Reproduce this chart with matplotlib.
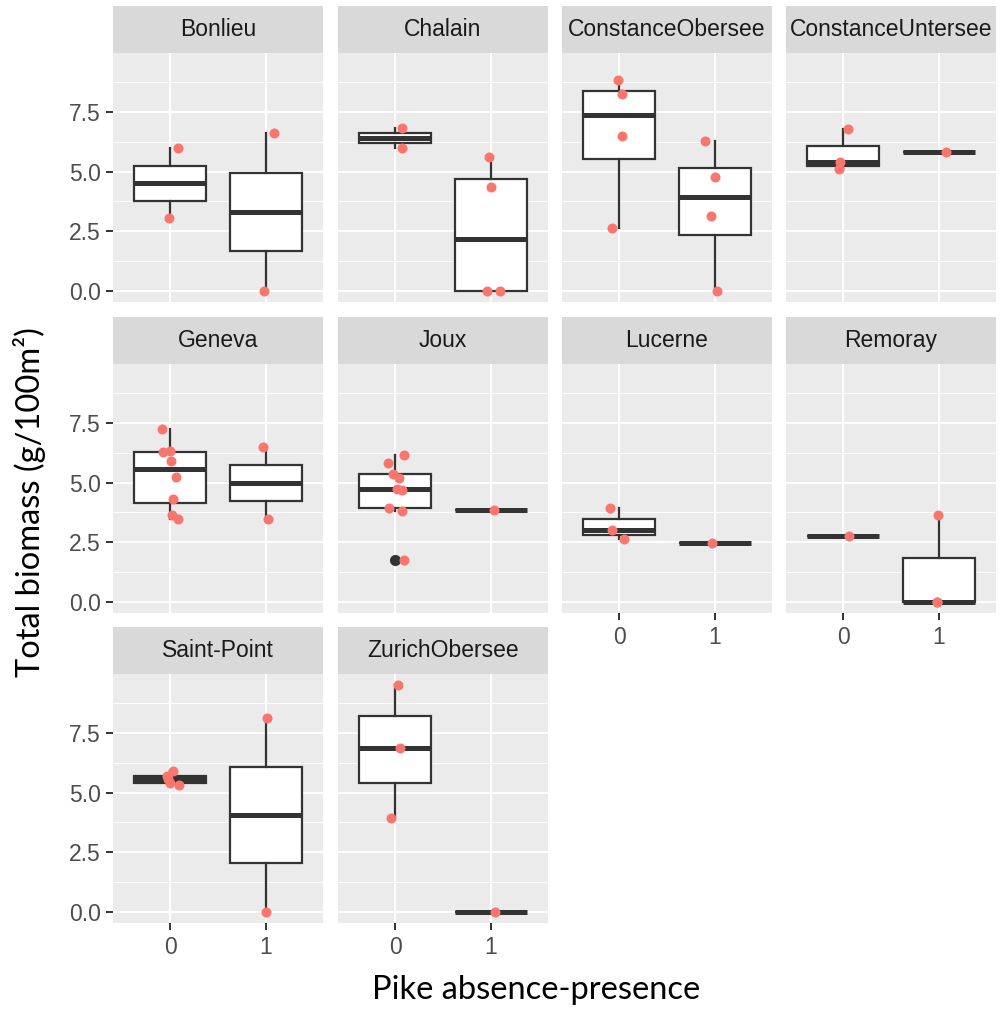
import numpy as np
import matplotlib.pyplot as plt

# biomass per lake, split by pike absence (0) / presence (1)
lakes = ["Bonlieu", "Chalain", "ConstanceObersee", "ConstanceUntersee",
         "Geneva", "Joux", "Lucerne", "Remoray",
         "Saint-Point", "ZurichObersee"]

absent = {
    "Bonlieu": [5.98, 3.05],
    "Chalain": [6.82, 5.98],
    "ConstanceObersee": [8.84, 8.24, 6.51, 2.65],
    "ConstanceUntersee": [6.79, 5.38, 5.10],
    "Geneva": [7.26, 6.29, 6.32, 5.90, 5.22, 4.31, 3.64, 3.47],
    "Joux": [6.15, 5.84, 5.35, 5.21, 4.75, 4.68, 3.92, 3.82, 1.76],
    "Lucerne": [3.94, 3.01, 2.62],
    "Remoray": [2.76],
    "Saint-Point": [5.90, 5.70, 5.55, 5.42, 5.30],
    "ZurichObersee": [9.50, 6.89, 3.95],
}
present = {
    "Bonlieu": [6.60, 0.0],
    "Chalain": [5.61, 4.37, 0.0, 0.0],
    "ConstanceObersee": [6.30, 4.75, 3.14, 0.0],
    "ConstanceUntersee": [5.84],
    "Geneva": [6.50, 3.46],
    "Joux": [3.83],
    "Lucerne": [2.48],
    "Remoray": [3.63, 0.0, 0.0],
    "Saint-Point": [8.12, 0.0],
    "ZurichObersee": [0.0],
}

# horizontal jitter (x units)
jit_absent = {
    "Bonlieu": [0.084, -0.01],
    "Chalain": [0.07, 0.07],
    "ConstanceObersee": [-0.017, 0.031, 0.025, -0.073],
    "ConstanceUntersee": [0.046, -0.035, -0.045],
    "Geneva": [-0.09, -0.08, 0.0, 0.007, 0.06, 0.03, 0.02, 0.084],
    "Joux": [0.087, -0.077, -0.024, 0.035, 0.018, 0.07, -0.07, 0.07, 0.094],
    "Lucerne": [-0.098, -0.08, 0.05],
    "Remoray": [0.06],
    "Saint-Point": [0.025, -0.038, -0.02, 0.0, 0.09],
    "ZurichObersee": [0.024, 0.05, -0.045],
}
jit_present = {
    "Bonlieu": [0.084, -0.015],
    "Chalain": [-0.018, 0.0, -0.035, 0.098],
    "ConstanceObersee": [-0.10, 0.0, -0.035, 0.02],
    "ConstanceUntersee": [0.077],
    "Geneva": [-0.028, 0.024],
    "Joux": [0.035],
    "Lucerne": [-0.028],
    "Remoray": [-0.01, -0.015, -0.02],
    "Saint-Point": [0.014, 0.007],
    "ZurichObersee": [0.045],
}

yticks = [0, 2.5, 5.0, 7.5]
ytick_labels = ["0.0", "2.5", "5.0", "7.5"]
xtick_labels = ["0", "1"]

W, H = 1000, 1014
fig = plt.figure(figsize=(W / 100, H / 100), dpi=100)

col_left = [113, 338, 562, 786]
row_top = [53, 364, 674]
pw, ph, sh = 210, 249, 47
ncol = 4
n = len(lakes)


def frac(x, y, w, h):
    return [x / W, 1 - (y + h) / H, w / W, h / H]


dark = "#333333"
for i, lake in enumerate(lakes):
    r, c = divmod(i, ncol)
    ax = fig.add_axes(frac(col_left[c], row_top[r], pw, ph))
    ax.set_facecolor("#EBEBEB")
    for s in ax.spines.values():
        s.set_visible(False)

    ax.boxplot([absent[lake], present[lake]], positions=[0, 1], widths=0.75,
               patch_artist=True, showcaps=False, manage_ticks=False,
               boxprops=dict(facecolor="white", edgecolor=dark, linewidth=1.6),
               whiskerprops=dict(color=dark, linewidth=1.6),
               medianprops=dict(color=dark, linewidth=3.6, solid_capstyle="butt"),
               flierprops=dict(marker="o", markerfacecolor=dark,
                               markeredgecolor=dark, markersize=7),
               zorder=2)

    for g, (vals, jit) in enumerate([(absent[lake], jit_absent[lake]),
                                     (present[lake], jit_present[lake])]):
        ax.scatter(np.array(jit) + g, vals, s=52, color="#F8766D",
                   linewidths=0, zorder=4)

    ax.set_xlim(-0.6, 1.6)
    ax.set_ylim(-0.475, 9.975)
    ax.set_yticks(yticks)
    ax.set_yticks([1.25, 3.75, 6.25, 8.75], minor=True)
    ax.set_xticks([0, 1])
    ax.grid(which="major", color="white", linewidth=1.4, zorder=0)
    ax.grid(which="minor", axis="y", color="white", linewidth=0.7, zorder=0)
    ax.set_axisbelow(True)
    ax.tick_params(which="minor", length=0)
    ax.tick_params(which="major", length=5, width=1.4, color=dark,
                   labelcolor="#4D4D4D", labelsize=16.5, pad=4)
    for lab in ax.get_xticklabels() + ax.get_yticklabels():
        lab.set_fontfamily("Liberation Sans")

    if c == 0:
        ax.set_yticklabels(ytick_labels)
    else:
        ax.tick_params(axis="y", which="major", length=0, labelleft=False)
    bottom = i + ncol >= n
    if bottom:
        ax.set_xticklabels(xtick_labels)
    else:
        ax.tick_params(axis="x", which="major", length=0, labelbottom=False)

    st = fig.add_axes(frac(col_left[c], row_top[r] - sh, pw, sh))
    st.set_facecolor("#D9D9D9")
    st.set_xticks([])
    st.set_yticks([])
    for s in st.spines.values():
        s.set_visible(False)
    st.text(0.5, 0.5, lake, ha="center", va="center", fontsize=16.5,
            color="#1A1A1A", family="Liberation Sans", transform=st.transAxes)

fig.text(536 / W, 1 - 990 / H, "Pike absence-presence", ha="center",
         va="center", fontsize=23.5, family="Lato", color="black")
fig.text(30 / W, 1 - 502 / H, "Total biomass (g/100m²)", ha="center",
         va="center", rotation=90, fontsize=23.5, family="Lato", color="black")

fig.savefig("out.png", dpi=100, facecolor="white")
